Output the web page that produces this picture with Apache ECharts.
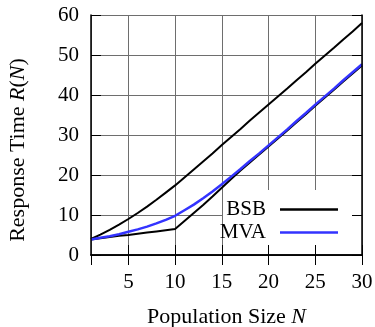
<!DOCTYPE html>
<html>
<head>
<meta charset="utf-8">
<script src="https://cdn.jsdelivr.net/npm/echarts@6/dist/echarts.min.js"></script>
<style>
html,body{margin:0;padding:0;background:#fff;}
#chart{width:375px;height:327px;}
</style>
</head>
<body>
<div id="chart"></div>
<script>
const populationN = [1,2,3,4,5,6,7,8,9,10,11,12,13,14,15,16,17,18,19,20,21,22,23,24,25,26,27,28,29,30];
const bsbUpper = [4.0,5.1,6.3,7.6,9.0,10.5,12.1,13.8,15.6,17.4,19.4,21.4,23.4,25.4,27.5,29.5,31.5,33.6,35.6,37.6,39.6,41.6,43.7,45.7,47.8,49.8,51.8,53.9,55.9,58.0];
const bsbLower = [3.9,4.2,4.5,4.8,5.0,5.3,5.6,5.9,6.2,6.5,8.5,10.5,12.5,14.6,16.8,19.0,21.1,23.1,25.1,27.1,29.1,31.1,33.2,35.2,37.3,39.3,41.3,43.4,45.4,47.4];
const mva = [3.9,4.3,4.7,5.2,5.8,6.4,7.1,7.9,8.8,9.8,11.2,12.6,14.2,15.9,17.7,19.6,21.5,23.5,25.4,27.4,29.4,31.4,33.5,35.5,37.6,39.6,41.6,43.7,45.7,47.7];
const xTitle = 'Population Size {i|N}';
const yTitle = 'Response Time {i|R}({i|N})';

const FONT = 'Liberation Serif';
const FS = 21;
const TFS = 22;
const pairs = arr => populationN.map((n, i) => [n, arr[i]]);

const chart = echarts.init(document.getElementById('chart'), null, {renderer: 'canvas'});
const gridLine = {show: true, lineStyle: {color: '#6e6e6e', width: 1}};
const frameLine = {show: true, lineStyle: {color: '#000', width: 1.5}};
const inTick = {show: true, inside: true, length: 10, lineStyle: {color: '#000', width: 1}};
const baseX = {type: 'value', min: 1, max: 30, splitNumber: 6};
const baseY = {type: 'value', min: 0, max: 60, interval: 10};
const richI = {i: {fontStyle: 'italic', fontFamily: FONT, fontSize: TFS, color: '#000'}};

chart.setOption({
  animation: false,
  backgroundColor: '#fff',
  grid: {left: 91, right: 13, top: 15, bottom: 72, containLabel: false, outerBoundsMode: 'none'},
  graphic: [{
    type: 'rect', z: 1,
    shape: {x: 223, y: 190, width: 138, height: 64},
    style: {fill: '#fff'}
  }],
  legend: {
    orient: 'vertical', align: 'right', right: 37, top: 199, padding: 0,
    icon: 'rect', itemWidth: 58, itemHeight: 2.4, itemGap: 2, z: 6,
    textStyle: {fontFamily: FONT, fontSize: FS, color: '#000', lineHeight: 21, padding: [0, 9, 0, 0]},
    data: ['BSB', 'MVA']
  },
  xAxis: [
    Object.assign({}, baseX, {position: 'bottom', z: 0, axisLine: {show: false}, axisTick: {show: false}, axisLabel: {show: false}, splitLine: gridLine}),
    Object.assign({}, baseX, {position: 'bottom', z: 5, axisLine: frameLine, axisTick: inTick, splitLine: {show: false},
      axisLabel: {show: true, margin: 17, showMinLabel: false, fontFamily: FONT, fontSize: FS, color: '#000'},
      name: xTitle, nameLocation: 'middle', nameGap: 51,
      nameTextStyle: {fontFamily: FONT, fontSize: TFS, color: '#000', rich: richI}}),
    Object.assign({}, baseX, {position: 'top', z: 5, axisLine: frameLine, axisTick: inTick, axisLabel: {show: false}, splitLine: {show: false}})
  ],
  yAxis: [
    Object.assign({}, baseY, {position: 'left', z: 0, axisLine: {show: false}, axisTick: {show: false}, axisLabel: {show: false}, splitLine: gridLine}),
    Object.assign({}, baseY, {position: 'left', z: 5, axisLine: frameLine, axisTick: inTick, splitLine: {show: false},
      axisLabel: {show: true, margin: 12, fontFamily: FONT, fontSize: FS, color: '#000'},
      name: yTitle, nameLocation: 'middle', nameRotate: 90, nameGap: 62,
      nameTextStyle: {fontFamily: FONT, fontSize: TFS, color: '#000', rich: richI, padding: [0, 30, 0, 0]}}),
    Object.assign({}, baseY, {position: 'right', z: 5, axisLine: frameLine, axisTick: inTick, axisLabel: {show: false}, splitLine: {show: false}})
  ],
  series: [
    {name: 'BSB', type: 'line', xAxisIndex: 0, yAxisIndex: 0, data: pairs(bsbUpper), symbol: 'none', z: 3,
      lineStyle: {color: '#000', width: 2}, itemStyle: {color: '#000'}},
    {name: 'BSB', type: 'line', xAxisIndex: 0, yAxisIndex: 0, data: pairs(bsbLower), symbol: 'none', z: 3,
      lineStyle: {color: '#000', width: 2}, itemStyle: {color: '#000'}},
    {name: 'MVA', type: 'line', xAxisIndex: 0, yAxisIndex: 0, data: pairs(mva), symbol: 'none', z: 4,
      lineStyle: {color: '#3333ff', width: 2.5}, itemStyle: {color: '#3333ff'}}
  ]
});
</script>
</body>
</html>
